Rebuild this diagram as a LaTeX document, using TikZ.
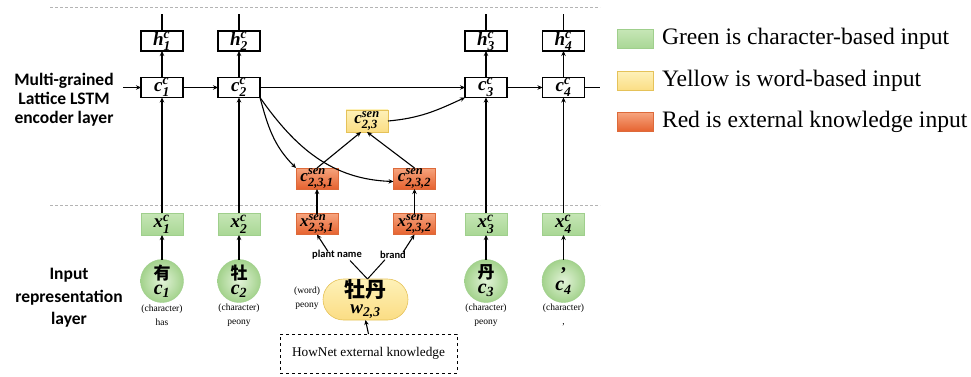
\documentclass[tikz,border=0pt]{standalone}
\usepackage{amsmath}
\usepackage{fontspec}
\setmainfont{Liberation Serif}
\newfontfamily\cjk{Noto Sans CJK SC}
\newfontfamily\lblsans{Carlito}
\usetikzlibrary{arrows.meta,shapes.misc,calc}
\DeclareMathSizes{20}{20}{14}{10}
\DeclareMathSizes{19}{19}{13.5}{10}
\DeclareMathSizes{17}{17}{12.5}{9}
\newcommand\bi[1]{\textbf{\textit{#1}}}
\newcommand\vlab[3]{$\text{\bi{#1}}^{\text{\bi{#2}}}_{\text{\bi{#3}}}$}
\newcommand\clab[2]{$\text{\bi{#1}}_{\text{\bi{#2}}}$}
\newcommand\fs[1]{\fontsize{#1}{#1}\selectfont}
\definecolor{gtop}{HTML}{C6E6B6}
\definecolor{gbot}{HTML}{A9D795}
\definecolor{gbd}{HTML}{9FCF8C}
\definecolor{gin}{HTML}{E2F3D8}
\definecolor{gout}{HTML}{A3D28C}
\definecolor{rtop}{HTML}{F6A47E}
\definecolor{rbot}{HTML}{E6622F}
\definecolor{rbd}{HTML}{DD6A3A}
\definecolor{ytop}{HTML}{FEF1B8}
\definecolor{ybot}{HTML}{FBDD84}
\definecolor{ybd}{HTML}{E5C259}
\definecolor{sepgray}{HTML}{B4B4B4}
\begin{document}
\begin{tikzpicture}[x=1pt,y=-1pt,
  >={Stealth[length=5pt,width=4.5pt]},
  every node/.style={inner sep=0pt, outer sep=0pt},
  wbox/.style={draw, line width=1.6pt, fill=white, minimum width=42pt, minimum height=20pt, font=\fs{19}},
  gbox/.style={draw=gbd, line width=0.4pt, top color=gtop, bottom color=gbot, minimum width=42pt, minimum height=22pt, font=\fs{19}},
  rbox/.style={draw=rbd, line width=0.5pt, top color=rtop, bottom color=rbot, minimum width=42pt, minimum height=21pt, font=\fs{17}},
  ybox/.style={draw=ybd, line width=0.5pt, top color=ytop, bottom color=ybot, minimum width=42pt, minimum height=22pt, font=\fs{17}},
  gcirc/.style={circle, draw=gbd, line width=0.4pt, inner color=gin, outer color=gout, minimum size=43pt, align=center, font=\fontsize{20}{15}\selectfont},
  conn/.style={->, line width=1.1pt},
  plain/.style={line width=1.1pt},
  sep/.style={draw=sepgray, line width=0.8pt, dash pattern=on 3pt off 2pt},
  caption/.style={align=center, font=\fontsize{9.5}{13.5}\selectfont},
  sidelab/.style={align=center, font=\lblsans\bfseries\fontsize{17.5}{19}\selectfont},
  smalllab/.style={font=\lblsans\bfseries\fs{10.5}},
  legtext/.style={anchor=west, font=\fs{23.6}},
  swatch/.style={minimum width=36pt, minimum height=19pt, line width=0.4pt}
]
\useasboundingbox (0,0) rectangle (971,377);

% separators
\draw[sep] (50,7) -- (600,7);
\draw[sep] (50,205) -- (600,205);

% side labels
\node[sidelab] (enc) at (64,100) {Multi-grained\\Lattice LSTM\\encoder layer};
\node[sidelab, font=\lblsans\bfseries\fontsize{17.5}{22.5}\selectfont] (inp) at (69,298) {Input\\representation\\layer};

% h boxes
\node[wbox] (h1) at (162,41) {\vlab{h}{c}{1}};
\node[wbox] (h2) at (239,41) {\vlab{h}{c}{2}};
\node[wbox] (h3) at (486,41) {\vlab{h}{c}{3}};
\node[wbox] (h4) at (563.5,41) {\vlab{h}{c}{4}};
% c boxes
\node[wbox] (c1) at (162,87.5) {\vlab{c}{c}{1}};
\node[wbox] (c2) at (239,87.5) {\vlab{c}{c}{2}};
\node[wbox] (c3) at (486,87.5) {\vlab{c}{c}{3}};
\node[wbox] (c4) at (563.5,87.5) {\vlab{c}{c}{4}};
% x boxes
\node[gbox] (x1) at (162,224) {\vlab{x}{c}{1}};
\node[gbox] (x2) at (239,224) {\vlab{x}{c}{2}};
\node[gbox] (x3) at (486,224) {\vlab{x}{c}{3}};
\node[gbox] (x4) at (563.5,224) {\vlab{x}{c}{4}};
% sense boxes
\node[rbox] (c231) at (317,178.5) {\vlab{c}{sen}{2,3,1}};
\node[rbox] (c232) at (414.5,178.5) {\vlab{c}{sen}{2,3,2}};
\node[ybox] (c23) at (367,121) {\vlab{c}{sen}{2,3}};
\node[rbox] (x231) at (317,224) {\vlab{x}{sen}{2,3,1}};
\node[rbox] (x232) at (414.5,224) {\vlab{x}{sen}{2,3,2}};

% circles
\node[gcirc] (ch1) at (162,281) {{\cjk\bfseries\fontsize{17}{15}\selectfont 有}\\\clab{c}{1}};
\node[gcirc] (ch2) at (239,281) {{\cjk\bfseries\fontsize{17}{15}\selectfont 牡}\\\clab{c}{2}};
\node[gcirc] (ch3) at (486,281) {{\cjk\bfseries\fontsize{17}{15}\selectfont 丹}\\\clab{c}{3}};
\node[gcirc] (ch4) at (563.5,281) {\raisebox{5pt}{\bfseries\fontsize{20}{15}\selectfont ,}\\\clab{c}{4}};

% captions
\node[caption] (cap1) at (162,315) {(character)\\has};
\node[caption] (cap2) at (239,315) {(character)\\peony};
\node[caption] (cap3) at (486,315) {(character)\\peony};
\node[caption] (cap4) at (563.5,315) {(character)\\,};

% word node
\node[rounded rectangle, draw=ybd, line width=0.6pt, top color=ytop, bottom color=ybot, minimum width=85pt, minimum height=41pt, align=center, font=\fontsize{19}{16}\selectfont] (w) at (365.5,299.5)
  {{\cjk\bfseries\fontsize{21}{16}\selectfont 牡丹}\\\clab{w}{2,3}};
\node[caption, anchor=east] (wcap) at (320,298) {(word)\\peony};

% labels
\node[smalllab] (pn) at (337,255) {plant name};
\node[smalllab] (br) at (393,255) {brand};

% HowNet
\node[draw, dashed, line width=1pt, minimum width=177pt, minimum height=39pt, font=\fs{13.3}] (hn) at (368.5,353.5) {HowNet external knowledge};

% top free ends
\coordinate (t1) at (162,14);
\coordinate (t2) at (239,14);
\coordinate (t3) at (486,14);
\coordinate (t4) at (563.5,14);
\coordinate (lin) at (123,87.5);
\coordinate (rout) at (600,87.5);

% connectors
\foreach \i in {1,2,3,4}{
  \draw[plain] (h\i.north) -- (t\i);
  \draw[conn] (c\i.north) -- (h\i.south);
  \draw[conn] (x\i.north) -- (c\i.south);
  \draw[conn] (ch\i.north) -- (x\i.south);
}
\draw[conn] (lin) -- (c1.west);
\draw[conn] (c1.east) -- (c2.west);
\draw[conn] (c2.east) -- (c3.west);
\draw[conn] (c3.east) -- (c4.west);
\draw[plain] (c4.east) -- (rout);

\draw[conn] (c2.south east) to[out=-75, in=135] (c231.north west);
\draw[conn] (c2.south east) to[out=-55, in=178] ([yshift=-3pt]c232.west);
\draw[conn] (c23.east) to[out=5, in=205] (c3.south west);
\draw[conn] (c231.north) -- ([xshift=-6pt]c23.south);
\draw[conn] (c232.north) -- ([xshift=0pt]c23.south);
\draw[conn] (x231.north) -- (c231.south);
\draw[conn] (x232.north) -- (c232.south);

\draw[conn] ([xshift=-9pt,yshift=-1pt]pn.north) -- (x231.south);
\draw[conn] ([xshift=10pt,yshift=-1pt]br.north) -- (x232.south);
\draw[plain, line width=1pt] ([xshift=2pt]w.north) -- ([xshift=13pt,yshift=-1pt]pn.south);
\draw[plain, line width=1pt] ([xshift=2pt]w.north) -- ([xshift=-8pt,yshift=-1pt]br.south);
\draw[conn] (hn.north) -- (w.south);

% legend
\node[swatch, draw=gbd, top color=gtop, bottom color=gbot] (sg) at (635,39) {};
\node[swatch, draw=ybd, top color=ytop, bottom color=ybot] (sy) at (635,81) {};
\node[swatch, draw=rbd, top color=rtop, bottom color=rbot] (sr) at (635,122) {};
\node[legtext] (lg) at (662,39) {Green is character-based input};
\node[legtext] (ly) at (662,81) {Yellow is word-based input};
\node[legtext] (lr) at (662,122) {Red is external knowledge input};
\end{tikzpicture}
\end{document}
